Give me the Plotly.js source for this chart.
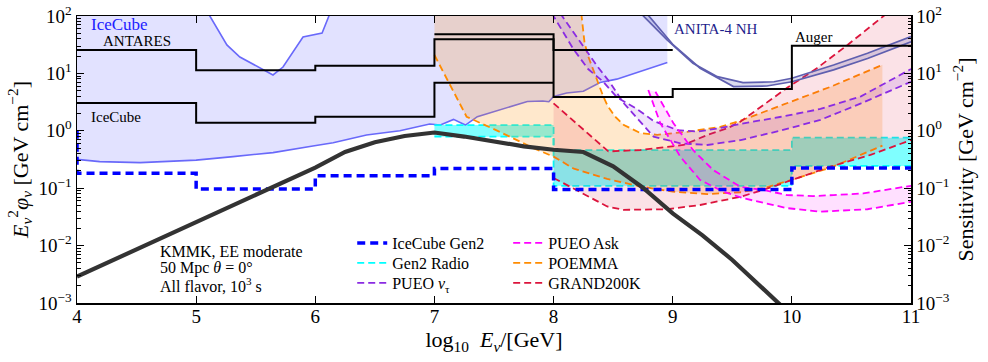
<!DOCTYPE html>
<html><head><meta charset="utf-8">
<script src="https://cdn.plot.ly/plotly-3.0.1.min.js"></script>
<style>html,body{margin:0;padding:0;background:#fff}</style>
</head><body><div id="chart" style="width:988px;height:362px"></div>
<script>
// ---------------- data (x = log10 E/GeV, y = E^2 phi in GeV cm^-2) ----------------
const iceLowE = [4.0,4.19,4.53,5.0,5.31,5.645,5.98,6.15,6.43,6.71,6.96,7.05,7.16,7.26,7.36,7.55,7.78,7.91,7.96,8.0,8.11,8.25,8.39,8.53,8.67,8.8,8.955];
const iceLowV = [0.318,0.29,0.279,0.309,0.355,0.417,0.543,0.621,0.845,1.0,1.31,1.26,1.58,1.26,1.76,2.3,3.24,3.31,3.21,3.98,4.57,4.9,6.92,7.94,10.0,12.0,15.5];
const iceUpE = [4.0,5.0,5.115,5.258,5.367,5.535,5.645,5.729,5.897,6.057,6.124,6.2,8.955];
const iceUpV = [1000,250,100,31.3,19.3,12.4,9.4,12.9,43,50.6,112,250,250];

const anitaLowE = [8.78,9.005,9.23,9.51,9.79,10.0,10.35,10.635,11.0];
const anitaLowV = [112,31.3,12.3,5.89,6.03,7.16,11.5,18.2,35.5];
const anitaUpE = [8.73,8.955,9.17,9.375,9.59,9.85,10.0,10.35,10.635,11.0];
const anitaUpV = [112,38,15,8.77,6.89,7.16,8.22,14.0,22.4,43.7];

const poemmaLowE = [7.0,7.11,7.27,7.55,7.83,8.0,8.17,8.45,8.73,9.0,9.29,9.57,9.76,9.99,10.33,10.76];
const poemmaLowV = [20.9,7.67,1.76,0.955,0.5,0.355,0.219,0.145,0.107,0.087,0.079,0.085,0.1,0.138,0.23,0.55];
const poemmaUpE = [7.0,8.2,8.235,8.26,8.29,8.35,8.415,8.455,8.515,8.56,8.59,8.73,8.87,9.12,9.4,9.57,9.96,10.33,10.76];
const poemmaUpV = [1000,1000,100,34.3,20.0,9.0,4.07,2.69,1.78,1.45,1.26,0.91,0.85,0.96,1.17,1.5,3.0,5.9,14.1];

const grandLowE = [8.0,8.45,8.585,8.955,9.23,9.57,9.79,10.0,10.33,10.66,11.0];
const grandLowV = [0.151,0.048,0.042,0.043,0.051,0.071,0.098,0.139,0.24,0.38,0.69];
const grandUpE = [8.0,8.46,8.73,9.09,9.29,9.46,9.57,9.96,10.21,10.47,10.77,11.0];
const grandUpV = [3.01,0.437,0.463,0.566,0.845,1.11,1.45,5.6,12.3,31.6,100,250];

const pueoTauLowE = [8.055,8.225,8.365,8.475,8.585,8.71,8.84,9.065,9.29,9.57,9.9,10.24,10.58,11.0];
const pueoTauLowV = [112,34.3,13.5,6.89,3.09,1.58,0.79,0.605,0.566,0.69,1.0,1.55,3.0,7.16];
const pueoTauUpE = [7.985,8.166,8.29,8.41,8.535,8.70,8.84,9.04,9.21,9.40,9.57,9.9,10.24,10.58,11.0];
const pueoTauUpV = [112,26.6,11.9,7.38,3.78,2.4,1.48,1.03,0.97,1.12,1.32,1.74,2.4,3.98,11.9];

const pueoAskLowE = [8.795,8.895,8.995,9.063,9.23,9.425,9.59,9.96,10.24,10.635,11.0];
const pueoAskLowV = [5.13,1.37,0.617,0.355,0.139,0.087,0.067,0.045,0.039,0.043,0.058];
const pueoAskUpE = [8.855,9.005,9.17,9.34,9.567,9.76,9.96,10.18,10.35,10.6,11.0];
const pueoAskUpV = [4.8,1.37,0.463,0.207,0.106,0.093,0.076,0.073,0.076,0.081,0.11];

const radioE = [7,8,10,11];
const radioLowV = [0.79,0.11,0.244,0.244];
const radioUpV = [1.26,0.46,0.76,0.76];

const gen2E = [4,4,5,6,7,8,10,11];
const gen2V = [1.0,0.182,0.097,0.165,0.22,0.095,0.225,0.225];

const antaresE = [4,5,6,7,8,9];
const antaresV = [25.6,11.3,13.6,39.3,25.6,25.6];
const icecubeStepE = [4,5,6,7,8];
const icecubeStepV = [3.05,1.38,1.76,6.9,6.9];
const augerE = [7,8,9,10,11];
const augerV = [48,3.88,5.35,30.4,30.4];

const kmmkE = [4,5,6,6.25,6.5,6.75,7,7.25,7.5,7.75,8,8.25,8.5,8.75,9,9.25,9.5,9.75,10];
const kmmkV = [0.00288,0.0257,0.229,0.427,0.631,0.813,0.933,0.794,0.646,0.537,0.468,0.427,0.24,0.102,0.0363,0.0151,0.00562,0.00178,0.000603];

const yTickVals = [0.001,0.01,0.1,1,10,100];
const yTickText = ['10<sup>−3</sup>','10<sup>−2</sup>','10<sup>−1</sup>','10<sup>0</sup>','10<sup>1</sup>','10<sup>2</sup>'];

// ---------------- traces ----------------
const FONT = 'Liberation Serif, Times New Roman, serif';
function ln(x, y, color, width, dash, extra) {
  return Object.assign({type:'scatter', mode:'lines', x:x, y:y, hoverinfo:'skip', showlegend:false,
    line:{color:color, width:width, dash:dash||'solid'}}, extra||{});
}
const D = '7px,4px';
const traces = [
  // IceCube band
  ln(iceLowE, iceLowV, 'rgb(105,105,250)', 1.6),
  ln(iceUpE, iceUpV, 'rgb(105,105,250)', 1.6, 'solid', {fill:'tonexty', fillcolor:'rgba(110,110,255,0.2)'}),
  // Gen2 Radio (underneath the other bands)
  ln(radioE, radioLowV, '#00ffff', 1.8, D, {line:{color:'#00ffff', width:1.8, dash:D, shape:'hv'}, name:'Gen2 Radio', showlegend:true, legend:'legend2'}),
  ln(radioE, radioUpV, '#00ffff', 1.8, D, {line:{color:'#00ffff', width:1.8, dash:D, shape:'hv'}, fill:'tonexty', fillcolor:'rgba(0,255,255,0.5)'}),
  // POEMMA
  ln(poemmaLowE, poemmaLowV, '#ff8c00', 1.8, D, {name:'POEMMA', showlegend:true, legend:'legend5'}),
  ln(poemmaUpE, poemmaUpV, '#ff8c00', 1.8, D, {fill:'tonexty', fillcolor:'rgba(255,140,0,0.2)'}),
  // GRAND200K
  ln(grandLowE, grandLowV, '#dc143c', 1.8, D, {name:'GRAND200K', showlegend:true, legend:'legend6'}),
  ln(grandUpE, grandUpV, '#dc143c', 1.8, D, {fill:'tonexty', fillcolor:'rgba(220,20,60,0.12)'}),
  // PUEO nu_tau
  ln(pueoTauLowE, pueoTauLowV, '#8a2be2', 1.8, D, {name:'PUEO <i>ν</i><sub>τ</sub>', showlegend:true, legend:'legend3'}),
  ln(pueoTauUpE, pueoTauUpV, '#8a2be2', 1.8, D, {fill:'tonexty', fillcolor:'rgba(138,43,226,0.13)'}),
  // PUEO Ask
  ln(pueoAskLowE, pueoAskLowV, '#ff00ff', 1.8, D, {name:'PUEO Ask', showlegend:true, legend:'legend4'}),
  ln(pueoAskUpE, pueoAskUpV, '#ff00ff', 1.8, D, {fill:'tonexty', fillcolor:'rgba(255,0,255,0.12)'}),
  // ANITA-4 NH
  ln(anitaLowE, anitaLowV, 'rgb(95,95,175)', 1.7),
  ln(anitaUpE, anitaUpV, 'rgb(95,95,175)', 1.7, 'solid', {fill:'tonexty', fillcolor:'rgba(95,95,175,0.22)'}),
  // black steps
  ln(antaresE, antaresV, '#000', 2, 'solid', {line:{color:'#000', width:2, shape:'hv'}}),
  ln(icecubeStepE, icecubeStepV, '#000', 2, 'solid', {line:{color:'#000', width:2, shape:'hv'}}),
  ln(augerE, augerV, '#000', 2, 'solid', {line:{color:'#000', width:2, shape:'hv'}}),
  // IceCube Gen2
  ln(gen2E, gen2V, '#0000ff', 3.5, '8px,5px', {line:{color:'#0000ff', width:3.5, dash:'8px,5px', shape:'hv'}, name:'IceCube Gen2', showlegend:true, legend:'legend'}),
  // KMMK (drawn against the right-hand axis, which has the identical scale)
  ln(kmmkE, kmmkV, '#333333', 4.2, 'solid', {yaxis:'y2'})
];

const axisFont = {family:FONT, size:19, color:'#000'};
const yCommon = {type:'log', range:[-3,2], tickvals:yTickVals, ticktext:yTickText, ticks:'inside', ticklen:7,
  tickwidth:1, tickcolor:'#000', showgrid:false, zeroline:false, showline:true, linecolor:'#000', linewidth:1.5,
  tickfont:axisFont, minor:{ticks:'inside', ticklen:3.5, tickcolor:'#000', dtick:'D1', showgrid:false}};

function leg(xp, py) {
  return {x:xp, y:1 - (py - 16) / 287, xanchor:'left', yanchor:'middle', bgcolor:'rgba(0,0,0,0)', borderwidth:0,
    font:{family:FONT, size:16, color:'#000'}, itemwidth:30, traceorder:'normal'};
}

const layout = {
  width:988, height:362, margin:{l:77, r:77, t:16, b:59},
  paper_bgcolor:'#fff', plot_bgcolor:'#fff',
  font:{family:FONT, color:'#000'},
  xaxis:{range:[4,11], dtick:1, tick0:4, ticks:'inside', ticklen:7, tickcolor:'#000', mirror:'ticks',
    showline:true, linecolor:'#000', linewidth:1.5, showgrid:false, zeroline:false, tickfont:axisFont,
    ticklabelstandoff:-4,
    title:{text:'log<sub>10</sub>  <i>E</i><sub><i>ν</i></sub>/[GeV]', font:{family:FONT, size:22}, standoff:4}},
  yaxis:Object.assign({}, yCommon, {title:{text:'<i>E</i><sub><i>ν</i></sub><sup>2</sup><i>φ</i><sub><i>ν</i></sub> [GeV cm<sup>−2</sup>]', font:{family:FONT, size:22}, standoff:4}}),
  yaxis2:Object.assign({}, yCommon, {overlaying:'y', side:'right', anchor:'x',
    title:{text:'Sensitivity [GeV cm<sup>−2</sup>]', font:{family:FONT, size:22}, standoff:4}}),
  legend:leg(0.330, 243),
  legend2:leg(0.330, 263),
  legend3:leg(0.330, 283),
  legend4:leg(0.517, 243),
  legend5:leg(0.517, 263),
  legend6:leg(0.517, 283),
  annotations:[
    {xref:'paper', yref:'paper', x:0.0144, y:0.972, xanchor:'left', yanchor:'middle', showarrow:false, text:'IceCube', font:{family:FONT, size:17, color:'#2020ff'}},
    {xref:'paper', yref:'paper', x:0.0288, y:0.913, xanchor:'left', yanchor:'middle', showarrow:false, text:'ANTARES', font:{family:FONT, size:15, color:'#000'}},
    {xref:'paper', yref:'paper', x:0.0144, y:0.648, xanchor:'left', yanchor:'middle', showarrow:false, text:'IceCube', font:{family:FONT, size:15, color:'#000'}},
    {xref:'paper', yref:'paper', x:0.714, y:0.955, xanchor:'left', yanchor:'middle', showarrow:false, text:'ANITA-4 NH', font:{family:FONT, size:15, color:'#1e1e8c'}},
    {xref:'paper', yref:'paper', x:0.858, y:0.927, xanchor:'left', yanchor:'middle', showarrow:false, text:'Auger', font:{family:FONT, size:15, color:'#000'}},
    {xref:'paper', yref:'paper', x:0.0972, y:0.181, xanchor:'left', yanchor:'middle', showarrow:false, text:'KMMK, EE moderate', font:{family:FONT, size:16, color:'#000'}},
    {xref:'paper', yref:'paper', x:0.0972, y:0.122, xanchor:'left', yanchor:'middle', showarrow:false, text:'50 Mpc <i>θ</i> = 0°', font:{family:FONT, size:16, color:'#000'}},
    {xref:'paper', yref:'paper', x:0.0972, y:0.0627, xanchor:'left', yanchor:'middle', showarrow:false, text:'All flavor, 10<sup>3</sup> s', font:{family:FONT, size:16, color:'#000'}}
  ]
};

Plotly.newPlot('chart', traces, layout, {displayModeBar:false, staticPlot:true});
</script></body></html>
